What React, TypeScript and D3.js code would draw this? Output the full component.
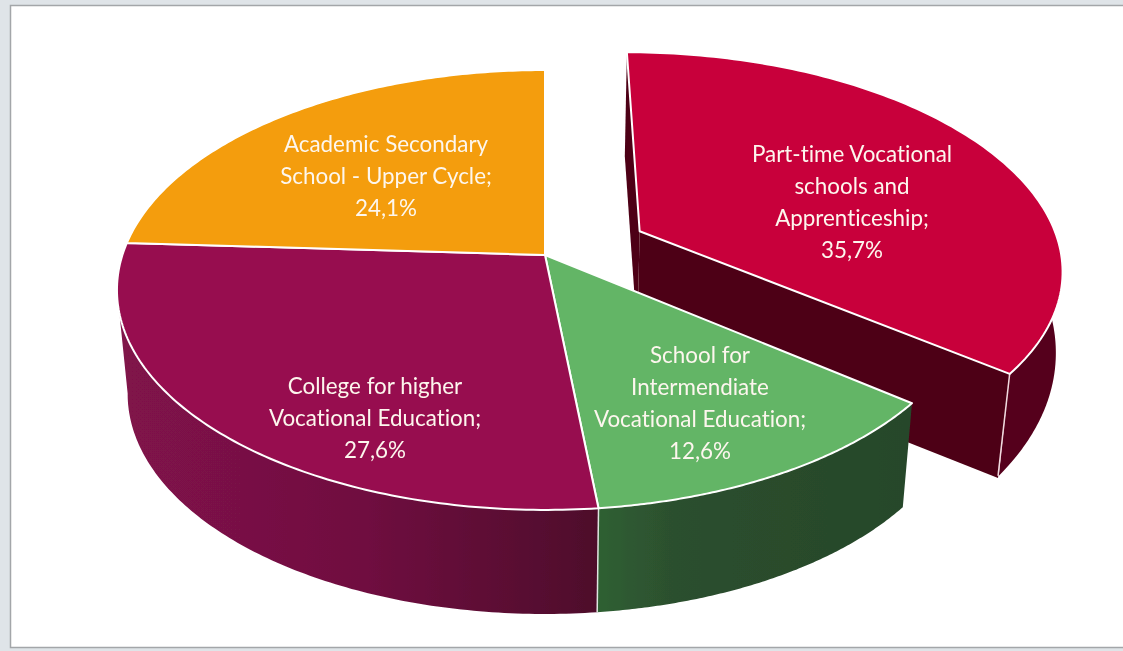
import React from "react";
import * as d3 from "d3";

const categories = [
  ["Part-time Vocational", "schools and", "Apprenticeship;"],
  ["School for", "Intermendiate", "Vocational Education;"],
  ["College for higher", "Vocational Education;"],
  ["Academic Secondary", "School - Upper Cycle;"],
];
const percentLabels = ["35,7%", "12,6%", "27,6%", "24,1%"];
const shares = [35.7, 12.6, 27.6, 24.1];
const topColors = ["#c8003a", "#63b566", "#97114f", "#f49d07"];

// layout
const W = 1123, H = 651;
const CX = 545, CY = 255, RX = 422.6, RY = 214.4, PERSP = 0.159;
const SHRINK = 0.975, DEPTH = 104;
const EXPLODE: [number, number] = [0.228, 0.113];
const labelCenters: [number, number][] = [[852, 154], [700, 355], [375, 386], [386, 144]];
const LINE_H = 32.3;
const TEXT_SIZE = 22.4;

type Pt = [number, number];
const project = (u: number, v: number): Pt => {
  const s = 1 / (1 + PERSP * v);
  return [CX + RX * u * s, CY - RY * v * s];
};
const lower = ([x, y]: Pt): Pt => [CX + (x - CX) * SHRINK, y + DEPTH];

const closed = d3.line().curve(d3.curveLinearClosed);
const angles = (a0: number, a1: number) =>
  d3.range(0, 121).map((i) => a0 + ((a1 - a0) * i) / 120);

function rim(a0: number, a1: number, off: [number, number]): Pt[] {
  return angles(a0, a1).map((t) => project(Math.sin(t) + off[0], Math.cos(t) + off[1]));
}

export default function App() {
  const arcs = d3.pie<number>().sort(null).value((d) => d)(shares);
  const slices = arcs.map((a, i) => {
    const off: [number, number] = i === 0 ? EXPLODE : [0, 0];
    const apex = project(off[0], off[1]);
    const edge = rim(a.startAngle, a.endAngle, off);
    return { i, a, off, apex, edge, top: closed([apex, ...edge] as any) as string };
  });

  const wall = (a0: number, a1: number, off: [number, number]) => {
    const r = rim(a0, a1, off);
    return closed([...r, ...r.slice().reverse().map(lower)] as any) as string;
  };
  const face = (p: Pt, q: Pt) => closed([p, q, lower(q), lower(p)] as any) as string;

  const red = slices[0], green = slices[1], purple = slices[2];
  const redCorner = red.edge[red.edge.length - 1];
  const greenLeft = green.edge[green.edge.length - 1];
  const tangentLeft = (261 * Math.PI) / 180;

  // the outer wall of the exploded slice narrows as it turns away from the viewer
  const redOuter = (() => {
    const r = rim(red.a.endAngle, (85 * Math.PI) / 180, red.off);
    const low = r.map(([x, y], i): Pt => {
      const t = i / (r.length - 1);
      return [x - 11 * (1 - 0.6 * t), y + 102 * (1 - 0.25 * t)];
    });
    return closed([...r, ...low.reverse()] as any) as string;
  })();

  return (
    <svg width={W} height={H} style={{ position: "fixed", left: 0, top: 0, display: "block" }}>
      <defs>
        <linearGradient id="pw" gradientUnits="userSpaceOnUse" x1={125} x2={597} y1={0} y2={0}>
          <stop offset="0" stopColor="#80124a" />
          <stop offset="0.5" stopColor="#701040" />
          <stop offset="1" stopColor="#4e0a2b" />
        </linearGradient>
        <linearGradient id="gw" gradientUnits="userSpaceOnUse" x1={597} x2={905} y1={0} y2={0}>
          <stop offset="0" stopColor="#2f6033" />
          <stop offset="0.25" stopColor="#2c4f2e" />
          <stop offset="1" stopColor="#26472a" />
        </linearGradient>
        <filter id="soft" x="-5%" y="-5%" width="110%" height="110%">
          <feGaussianBlur stdDeviation="0.5" />
        </filter>
      </defs>
      <rect width={W} height={H} fill="#dfe4e8" />
      <rect x={10.5} y={5.5} width={W} height={642} fill="#ffffff" stroke="#a3a6a9" strokeWidth={1.5} />
      <g filter="url(#soft)">
        {/* exploded slice, walls first */}
        <path d={face(red.apex, red.edge[0])} fill="#4d0016" />
        <path d={face(red.apex, redCorner)} fill="#4d0016" />
        <path d={redOuter} fill="#55001c" />
        <line x1={redCorner[0]} y1={redCorner[1]} x2={lower(redCorner)[0]} y2={redCorner[1] + 102} stroke="#f1d9df" strokeWidth={1.5} />
        <path d={red.top} fill={topColors[0]} stroke="#ffffff" strokeWidth={2} strokeLinejoin="round" />

        {/* remaining pie walls */}
        <path d={wall(purple.a.startAngle, tangentLeft, [0, 0])} fill="url(#pw)" />
        <path d={wall(green.a.startAngle, green.a.endAngle, [0, 0])} fill="url(#gw)" />
        <line x1={greenLeft[0]} y1={greenLeft[1]} x2={lower(greenLeft)[0]} y2={lower(greenLeft)[1]} stroke="#dfe6e0" strokeWidth={1.5} />

        {slices.slice(1).map((s) => (
          <path key={s.i} d={s.top} fill={topColors[s.i]} stroke="#ffffff" strokeWidth={2} strokeLinejoin="round" />
        ))}

        {categories.map((lines, i) => {
          const [x, y] = labelCenters[i];
          const all = [...lines, percentLabels[i]];
          return (
            <text key={i} textAnchor="middle" fill="#fdf6ee" fontFamily="Lato, 'Open Sans', sans-serif" fontSize={TEXT_SIZE} style={{ fontVariantLigatures: "none" }}>
              {all.map((t, j) => (
                <tspan key={j} x={x} y={y + j * LINE_H + 7.5}>{t}</tspan>
              ))}
            </text>
          );
        })}
      </g>
    </svg>
  );
}
